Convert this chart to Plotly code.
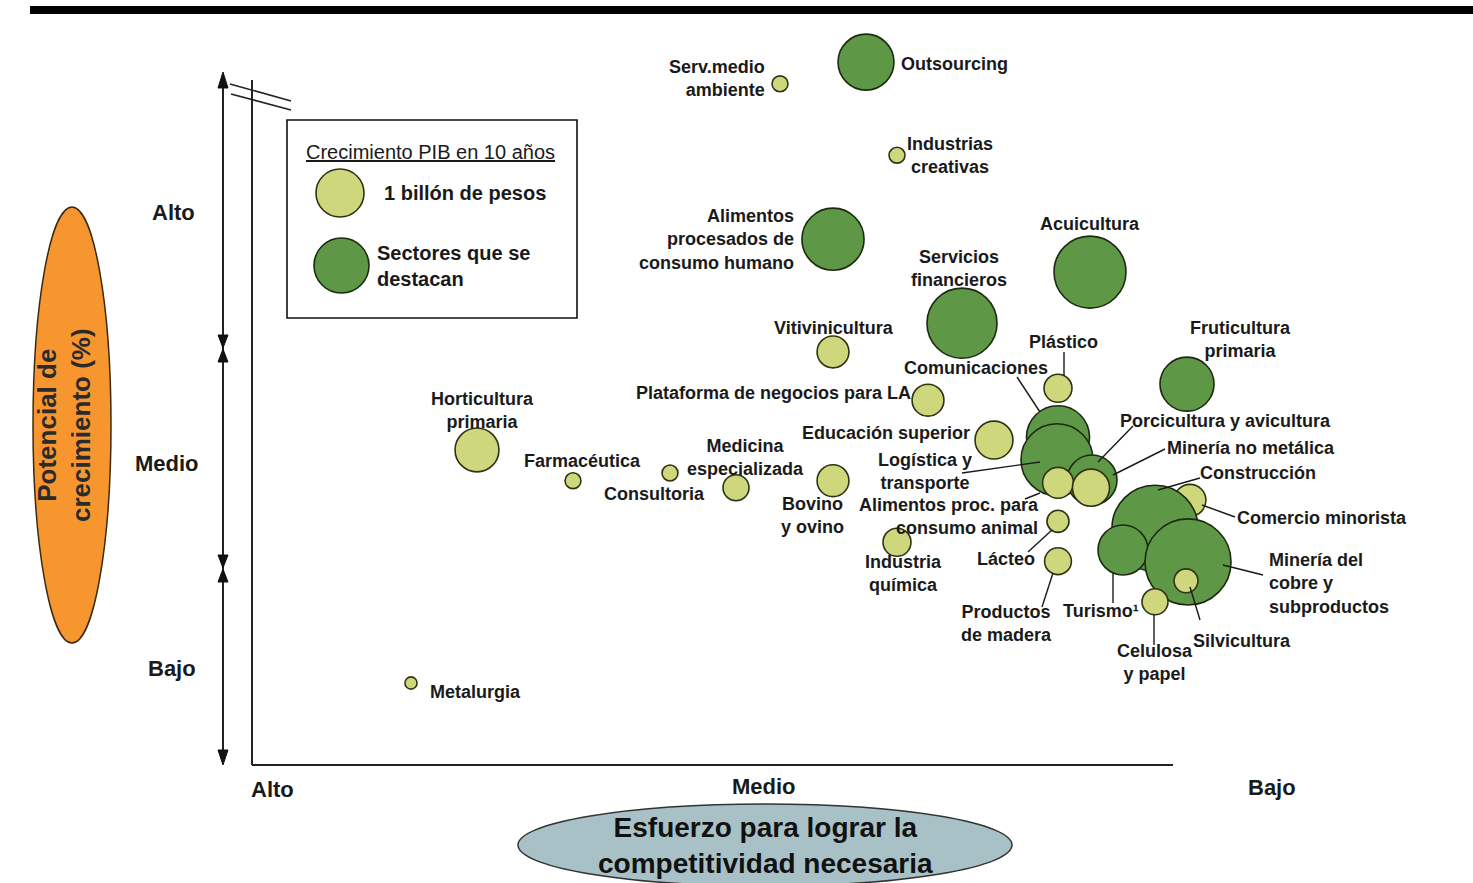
import plotly.graph_objects as go

W, H = 1473, 883

# ---------------- data ----------------
sectores = [
    "Serv.medio ambiente", "Outsourcing", "Industrias creativas",
    "Alimentos procesados de consumo humano", "Acuicultura", "Servicios financieros",
    "Vitivinicultura", "Plástico", "Fruticultura primaria",
    "Plataforma de negocios para LA", "Educación superior", "Comunicaciones",
    "Logística y transporte", "Porcicultura y avicultura", "Alimentos proc. para consumo animal",
    "Minería no metálica", "Comercio minorista", "Construcción",
    "Turismo", "Minería del cobre y subproductos", "Silvicultura",
    "Celulosa y papel", "Lácteo", "Productos de madera",
    "Industria química", "Bovino y ovino", "Medicina especializada",
    "Consultoria", "Farmacéutica", "Horticultura primaria", "Metalurgia",
]
# Esfuerzo para lograr la competitividad (0 = Alto, 100 = Bajo)
esfuerzo = [52.8, 61.4, 64.5, 58.1, 83.8, 71.0, 58.1, 80.6, 93.5, 67.6, 74.2, 80.6,
            80.5, 84.0, 80.6, 83.9, 93.8, 90.3, 87.1, 93.6, 93.4, 90.3, 80.6, 80.6,
            64.5, 58.1, 48.4, 41.8, 32.1, 22.5, 15.9]
# Potencial de crecimiento (0 = Bajo, 100 = Alto)
potencial = [96.6, 99.7, 86.4, 74.4, 69.7, 62.4, 58.3, 53.1, 53.7, 51.4, 45.7, 46.1,
             42.9, 40.0, 39.6, 38.9, 37.1, 33.1, 30.0, 28.3, 25.6, 22.6, 34.1, 28.4,
             31.1, 39.9, 38.9, 41.0, 39.9, 44.3, 11.0]
# Crecimiento PIB en 10 años (billones de pesos)
pib = [0.12, 1.48, 0.12, 1.82, 2.45, 2.32, 0.48, 0.37, 1.38, 0.48, 0.68, 1.88,
       2.45, 1.18, 0.45, 0.65, 0.48, 3.50, 1.18, 3.50, 0.27, 0.32, 0.23, 0.34,
       0.37, 0.48, 0.32, 0.12, 0.12, 0.91, 0.07]
destaca = [0, 1, 0, 1, 1, 1, 0, 0, 1, 0, 0, 1,
           1, 1, 0, 0, 0, 1, 1, 1, 0, 0, 0, 0,
           0, 0, 0, 0, 0, 0, 0]

niveles_y = ["Alto", "Medio", "Bajo"]
niveles_x = ["Alto", "Medio", "Bajo"]

# ---------------- styles ----------------
LIGHT = "#CFD77C"
DARK = "#5E9846"
LIGHT_LINE = "#2F3315"
DARK_LINE = "#1B2A10"
FONT = "Liberation Sans, Arial, sans-serif"

def X(px):
    return px / W

def Y(py):
    return 1 - py / H

fig = go.Figure()

fig.add_trace(go.Scatter(
    x=esfuerzo, y=potencial, mode="markers",
    text=sectores, hoverinfo="text",
    marker=dict(
        size=pib, sizemode="area", sizeref=1 / 1058.0,
        color=[DARK if d else LIGHT for d in destaca],
        opacity=1,
        line=dict(color=[DARK_LINE if d else LIGHT_LINE for d in destaca], width=1.6),
    ),
    showlegend=False,
))

shapes = []
annotations = []

def line(x0, y0, x1, y1, w=1.6, color="#222"):
    shapes.append(dict(type="line", xref="paper", yref="paper",
                       x0=X(x0), y0=Y(y0), x1=X(x1), y1=Y(y1),
                       line=dict(color=color, width=w)))

def tri(points, color="#111"):
    p = "M " + " L ".join(f"{X(a):.5f},{Y(b):.5f}" for a, b in points) + " Z"
    shapes.append(dict(type="path", xref="paper", yref="paper", path=p,
                       fillcolor=color, line=dict(color=color, width=1)))

def label(text, px, py, xanchor="center", align="center", size=18, bold=True, color="#1a1a1a", angle=0):
    annotations.append(dict(
        text=f"<b>{text}</b>" if bold else text,
        xref="paper", yref="paper", x=X(px), y=Y(py),
        xanchor=xanchor, yanchor="middle", showarrow=False, align=align,
        font=dict(family=FONT, size=size, color=color), textangle=angle,
    ))

# top black bar
shapes.append(dict(type="rect", xref="paper", yref="paper", x0=X(30), x1=X(1473),
                   y0=Y(14), y1=Y(6), fillcolor="#000", line=dict(width=0)))

# orange ellipse (y axis title)
shapes.append(dict(type="circle", xref="paper", yref="paper", x0=X(33), x1=X(111),
                   y0=Y(643), y1=Y(207), fillcolor="#F7962E", line=dict(color="#3a2a10", width=1.5)))
# bottom ellipse (x axis title)
shapes.append(dict(type="circle", xref="paper", yref="paper", x0=X(518), x1=X(1012),
                   y0=Y(886), y1=Y(804), fillcolor="#A8C1C6", line=dict(color="#333", width=1.5)))

# axes
line(223, 80, 223, 758, w=2)
line(252, 80, 252, 765, w=2)
line(252, 765, 1173, 765, w=2)
line(230, 84, 291, 101, w=1.6)
line(231, 94, 291, 110, w=1.6)
# arrowheads
tri([(218, 88), (223, 72), (228, 88)])
tri([(218, 335), (223, 348), (228, 335)])
tri([(218, 362), (223, 349), (228, 362)])
tri([(218, 555), (223, 568), (228, 555)])
tri([(218, 582), (223, 569), (228, 582)])
tri([(218, 750), (223, 765), (228, 750)])

# axis level labels
for t, px, py in zip(niveles_y, [173, 167, 172], [213, 463, 668]):
    label(t, px, py, size=22)
for t, px, py in zip(niveles_x, [272, 764, 1272], [789, 786, 787]):
    label(t, px, py, size=22)

# axis titles
label("Potencial de<br>crecimiento (%)", 64, 425, size=26, bold=True, color="#2a2a2a", angle=-90)
label("Esfuerzo para lograr la<br>competitividad necesaria", 765, 845, size=28, bold=True, color="#111")

# legend box
shapes.append(dict(type="rect", xref="paper", yref="paper", x0=X(287), x1=X(577),
                   y0=Y(318), y1=Y(120), line=dict(color="#111", width=1.6), fillcolor="rgba(0,0,0,0)"))
label("<u>Crecimiento PIB en 10 años</u>", 430, 152, size=20, bold=False, color="#1a1a1a")
shapes.append(dict(type="circle", xref="paper", yref="paper", x0=X(316), x1=X(364),
                   y0=Y(217), y1=Y(169), fillcolor=LIGHT, line=dict(color=LIGHT_LINE, width=1.6)))
shapes.append(dict(type="circle", xref="paper", yref="paper", x0=X(314), x1=X(369),
                   y0=Y(293), y1=Y(238), fillcolor=DARK, line=dict(color=DARK_LINE, width=1.6)))
label("1 billón de pesos", 382, 193, xanchor="left", align="left", size=20)
label("Sectores que se<br>destacan", 375, 266, xanchor="left", align="left", size=20)

# sector labels: (text, px, py, anchor)
etiquetas = [
    ("Serv.medio<br>ambiente", 767, 78, "right"),
    ("Outsourcing", 899, 64, "left"),
    ("Industrias<br>creativas", 950, 155, "center"),
    ("Alimentos<br>procesados de<br>consumo humano", 796, 239, "right"),
    ("Acuicultura", 1090, 224, "center"),
    ("Servicios<br>financieros", 959, 268, "center"),
    ("Vitivinicultura", 834, 328, "center"),
    ("Plástico", 1063, 342, "center"),
    ("Fruticultura<br>primaria", 1240, 339, "center"),
    ("Comunicaciones", 976, 368, "center"),
    ("Plataforma de negocios para LA", 913, 393, "right"),
    ("Educación superior", 972, 433, "right"),
    ("Logística y<br>transporte", 925, 471, "center"),
    ("Porcicultura y avicultura", 1225, 421, "center"),
    ("Minería no metálica", 1165, 448, "left"),
    ("Construcción", 1198, 473, "left"),
    ("Comercio minorista", 1235, 518, "left"),
    ("Minería del<br>cobre y<br>subproductos", 1267, 583, "left"),
    ("Silvicultura", 1191, 641, "left"),
    ("Celulosa<br>y papel", 1155, 662, "center"),
    ("Turismo¹", 1141, 611, "right"),
    ("Productos<br>de madera", 1006, 623, "center"),
    ("Lácteo", 1006, 559, "center"),
    ("Alimentos proc. para<br>consumo animal", 1041, 516, "right"),
    ("Industria<br>química", 903, 573, "center"),
    ("Bovino<br>y ovino", 812, 515, "center"),
    ("Medicina<br>especializada", 745, 457, "center"),
    ("Consultoria", 654, 494, "center"),
    ("Farmacéutica", 582, 461, "center"),
    ("Horticultura<br>primaria", 482, 410, "center"),
    ("Metalurgia", 428, 692, "left"),
]
for t, px, py, a in etiquetas:
    label(t, px, py, xanchor=a, align=a)

# leader lines
lideres = [
    (1064, 352, 1064, 376),
    (1017, 377, 1040, 412),
    (962, 473, 1040, 462),
    (1133, 426, 1098, 462),
    (1165, 449, 1113, 475),
    (1200, 478, 1158, 490),
    (1235, 517, 1202, 505),
    (1263, 575, 1223, 565),
    (1200, 620, 1190, 587),
    (1154, 614, 1154, 645),
    (1113, 573, 1113, 603),
    (1053, 573, 1042, 607),
    (1052, 530, 1028, 552),
    (1040, 493, 1025, 499),
]
for l in lideres:
    line(*l, w=1.4, color="#1a1a1a")

fig.update_layout(
    width=W, height=H, margin=dict(l=0, r=0, t=0, b=0),
    paper_bgcolor="white", plot_bgcolor="white",
    xaxis=dict(range=[-25.2, 122.1], visible=False, fixedrange=True),
    yaxis=dict(range=[-17.571, 108.571], visible=False, fixedrange=True),
    shapes=shapes, annotations=annotations, showlegend=False,
    font=dict(family=FONT),
)

fig.write_html("out.html", config={"displayModeBar": False},
               post_script="document.body.style.margin='0';document.body.style.overflow='hidden';")
